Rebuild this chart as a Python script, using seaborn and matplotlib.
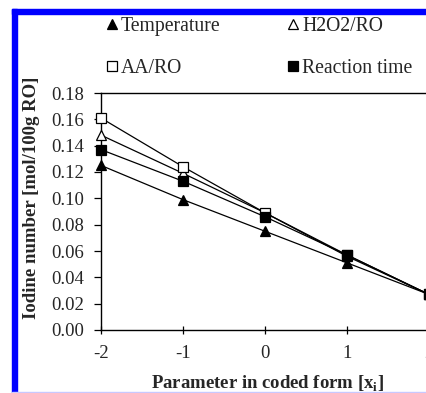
import matplotlib
matplotlib.use("Agg")
import matplotlib.pyplot as plt
import seaborn as sns
import pandas as pd
from matplotlib.patches import Rectangle
from matplotlib.lines import Line2D

# ---- data ----
x_coded = [-2, -1, 0, 1, 2]
temperature = [0.125, 0.099, 0.075, 0.051, 0.027]
h2o2_ro = [0.148, 0.119, 0.089, 0.056, 0.027]
aa_ro = [0.161, 0.124, 0.089, 0.057, 0.027]
reaction_time = [0.137, 0.113, 0.086, 0.057, 0.027]
series_names = ["Temperature", "H2O2/RO", "AA/RO", "Reaction time"]
y_ticks = [0.00, 0.02, 0.04, 0.06, 0.08, 0.10, 0.12, 0.14, 0.16, 0.18]
x_ticks = [-2, -1, 0, 1, 2]

sns.set_theme(style="white")
plt.rcParams["font.family"] = ["Liberation Serif", "DejaVu Serif"]
plt.rcParams["mathtext.fontset"] = "custom"
plt.rcParams["mathtext.rm"] = "Liberation Serif"
plt.rcParams["mathtext.bf"] = "Liberation Serif:bold"

fig = plt.figure(figsize=(4.27, 3.93), dpi=100)
fig.patch.set_facecolor("white")
W, H = 427, 393
ax = fig.add_axes([101 / W, 1 - 330 / H, 328 / W, 237 / H])
ax.set_facecolor("white")

styles = {
    "Temperature": dict(marker="^", mfc="black"),
    "H2O2/RO": dict(marker="^", mfc="white"),
    "AA/RO": dict(marker="s", mfc="white"),
    "Reaction time": dict(marker="s", mfc="black"),
}
values = {
    "Temperature": temperature,
    "H2O2/RO": h2o2_ro,
    "AA/RO": aa_ro,
    "Reaction time": reaction_time,
}
for name in series_names:
    df = pd.DataFrame({"x": x_coded, "y": values[name]})
    st = styles[name]
    sns.lineplot(data=df, x="x", y="y", ax=ax, color="black", lw=0.9,
                 marker=st["marker"], markerfacecolor=st["mfc"],
                 markeredgecolor="black", markersize=7, markeredgewidth=0.9,
                 clip_on=False, zorder=3)

ax.set_xlim(-2, 2)
ax.set_ylim(0, 0.18)
ax.set_xticks(x_ticks)
ax.set_xticklabels([str(v) for v in x_ticks])
ax.set_yticks(y_ticks)
ax.set_yticklabels([f"{v:.2f}" for v in y_ticks])
ax.tick_params(axis="y", direction="out", length=5, width=0.9, color="black",
               labelsize=13.5, pad=7, left=True)
ax.tick_params(axis="x", direction="inout", length=6, width=0.9, color="black",
               labelsize=13.5, pad=8, bottom=True)
for s in ["left", "bottom", "top"]:
    ax.spines[s].set_visible(True)
    ax.spines[s].set_color("black")
    ax.spines[s].set_linewidth(1.0)
ax.spines["right"].set_visible(False)

ax.set_xlabel("Parameter in coded form [x$_\\mathbf{i}$]", fontsize=13.5, fontweight="bold")
ax.set_ylabel("Iodine number [mol/100g RO]", fontsize=13.5, fontweight="bold")
ax.xaxis.set_label_coords(0.509, -0.183)
ax.yaxis.set_label_coords(-0.186, 0.557)

# legend
handles = {}
for name in series_names:
    st = styles[name]
    handles[name] = Line2D([], [], linestyle="none", marker=st["marker"],
                           markerfacecolor=st["mfc"], markeredgecolor="black",
                           markersize=6.5, markeredgewidth=0.9)
order = ["Temperature", "AA/RO", "H2O2/RO", "Reaction time"]
fig.legend([handles[n] for n in order], order, ncol=2, frameon=False,
           loc="upper left", bbox_to_anchor=(106 / W, 1 - 17 / H),
           fontsize=14.2, handlelength=0.6, handletextpad=0.15,
           columnspacing=3.4, labelspacing=1.17, borderaxespad=0, borderpad=0)

# border decoration
fig.patches.append(Rectangle((12 / W, 0), 5 / W, 1 - 9 / H, transform=fig.transFigure,
                             color="#0000ff", zorder=10))
fig.patches.append(Rectangle((12 / W, 1 - 14 / H), 1, 5 / H, transform=fig.transFigure,
                             color="#0000ff", zorder=10))
fig.patches.append(Rectangle((12 / W, 0), 1, 1.5 / H, transform=fig.transFigure,
                             color="#c8c8ff", zorder=10))

fig.savefig("out.png", dpi=100, facecolor="white")
